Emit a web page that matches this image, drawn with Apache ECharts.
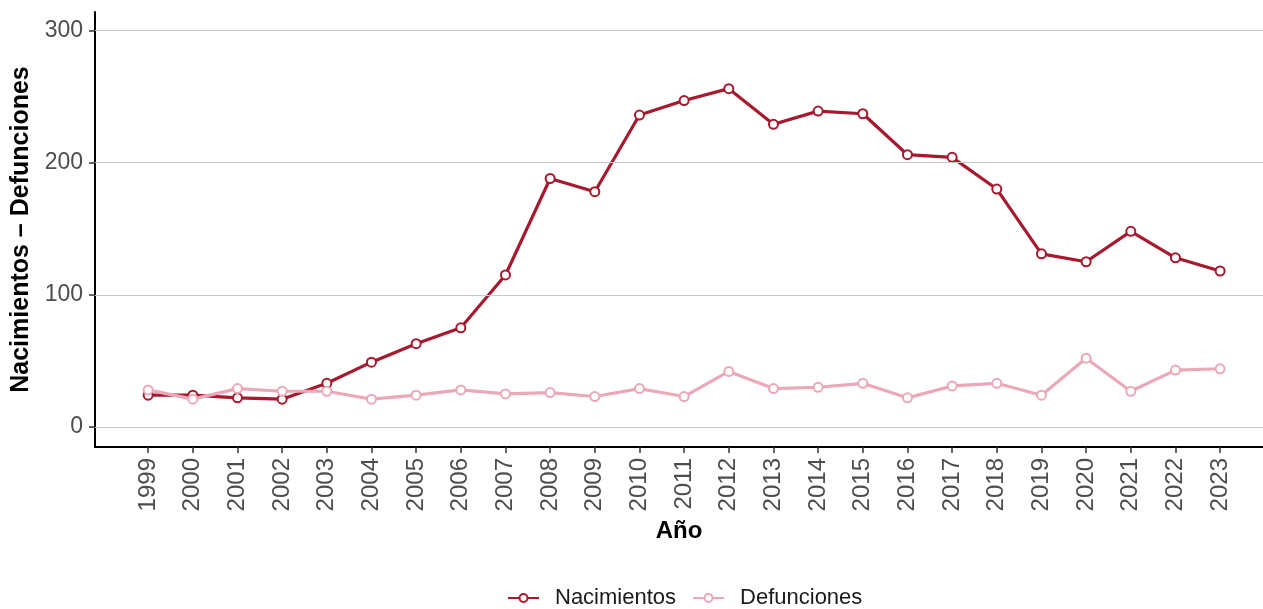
<!DOCTYPE html>
<html>
<head>
<meta charset="utf-8">
<script src="https://cdn.jsdelivr.net/npm/echarts@6/dist/echarts.min.js"></script>
<style>html,body{margin:0;padding:0;background:#fff}#c{width:1263px;height:609px}</style>
</head>
<body>
<div id="c"></div>
<script>
const years = [1999,2000,2001,2002,2003,2004,2005,2006,2007,2008,2009,2010,2011,2012,2013,2014,2015,2016,2017,2018,2019,2020,2021,2022,2023];
const nacimientos = [24,24,22,21,33,49,63,75,115,188,178,236,247,256,229,239,237,206,204,180,131,125,148,128,118];
const defunciones = [28,21,29,27,27,21,24,28,25,26,23,29,23,42,29,30,33,22,31,33,24,52,27,43,44];
const yTicks = [0,100,200,300];
const seriesNames = ['Nacimientos','Defunciones'];

const chart = echarts.init(document.getElementById('c'), null, {renderer:'canvas'});
const pair = arr => years.map((y,i)=>[y,arr[i]]);
const font = 'Liberation Sans, Arial, sans-serif';
chart.setOption({
  animation:false,
  backgroundColor:'#fff',
  grid:{left:95,right:0,top:12,bottom:162,containLabel:false},
  legend:{
    bottom:-5, left:502, itemWidth:31, itemHeight:10, itemGap:16,
    textStyle:{fontFamily:font,fontSize:22,color:'#1a1a1a',padding:[0,0,0,11]},
    data:seriesNames
  },
  xAxis:{
    type:'value', min:1997.81, max:2023.96,
    name:'Año', nameLocation:'middle', nameGap:69,
    nameTextStyle:{fontFamily:font,fontSize:24,fontWeight:'bold',color:'#000'},
    axisLine:{show:true,onZero:false,lineStyle:{color:'#000',width:2}},
    axisTick:{show:true,length:6,customValues:years,lineStyle:{color:'#333',width:1.5}},
    axisLabel:{customValues:years,formatter:v=>String(v),rotate:90,margin:11,fontFamily:font,fontSize:24,color:'#4d4d4d'},
    splitLine:{show:false}
  },
  yAxis:{
    type:'value', min:-15.2, max:314,
    name:'Nacimientos – Defunciones', nameLocation:'middle', nameGap:56,
    nameTextStyle:{fontFamily:font,fontSize:25,fontWeight:'bold',color:'#000'},
    axisLine:{show:true,onZero:false,lineStyle:{color:'#000',width:2}},
    axisTick:{show:true,length:6,customValues:yTicks,lineStyle:{color:'#333',width:1.5}},
    axisLabel:{customValues:yTicks,margin:12,fontFamily:font,fontSize:23,color:'#4d4d4d'},
    splitLine:{show:false}
  },
  series:[
    {name:seriesNames[0],type:'line',data:pair(nacimientos),
     symbol:'emptyCircle',symbolSize:9,
     lineStyle:{color:'#a6192e',width:3.2},
     itemStyle:{color:'#a6192e',borderWidth:1.5},
     markLine:{silent:true,symbol:'none',label:{show:false},
       lineStyle:{color:'#c8c8c8',width:1,type:'solid'},
       data:yTicks.map(v=>({yAxis:v}))},
     z:3},
    {name:seriesNames[1],type:'line',data:pair(defunciones),
     symbol:'emptyCircle',symbolSize:9,
     lineStyle:{color:'#eaa8b8',width:3.2},
     itemStyle:{color:'#eaa8b8',borderWidth:1.5},
     z:4}
  ]
});
</script>
</body>
</html>
